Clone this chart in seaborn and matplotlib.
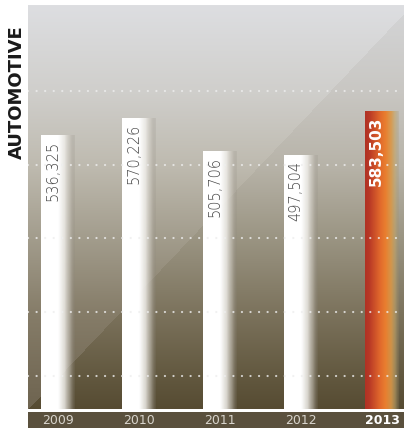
import numpy as np
import pandas as pd
import matplotlib
matplotlib.use("Agg")
import matplotlib.pyplot as plt
import seaborn as sns
from matplotlib.patches import Rectangle

# ---- data -------------------------------------------------------------
years = ["2009", "2010", "2011", "2012", "2013"]
units = [536325, 570226, 505706, 497504, 583503]
value_labels = ["536,325", "570,226", "505,706", "497,504", "583,503"]
grid_levels = [65000, 190000, 335000, 478000, 623000]
y_top = 791000

W_PX, H_PX = 404, 428
sns.set_theme(style="white")
plt.rcParams["font.family"] = ["DejaVu Sans"]

fig = plt.figure(figsize=(W_PX / 100, H_PX / 100), dpi=100)
fig.patch.set_facecolor("white")

ax_l, ax_r, ax_t, ax_b = 28, 404, 5, 409
ax = fig.add_axes([ax_l / W_PX, 1 - ax_b / H_PX,
                   (ax_r - ax_l) / W_PX, (ax_b - ax_t) / H_PX])

# dark band under the axis holding the year labels
fig.add_artist(Rectangle((ax_l / W_PX, 0), (ax_r - ax_l) / W_PX, 16 / H_PX,
                         transform=fig.transFigure, facecolor="#5a503d",
                         edgecolor="none", zorder=-1))

# ---- background: vertical gradient split by a diagonal ----------------
def ramp(stops, n):
    t = np.linspace(0, 1, n)
    pos = [s[0] for s in stops]
    cols = np.array([s[1] for s in stops], dtype=float) / 255
    return np.stack([np.interp(t, pos, cols[:, k]) for k in range(3)], axis=1)

upper = [(0.0, (221, 222, 225)), (0.21, (208, 207, 204)), (0.40, (190, 186, 175)),
         (0.58, (162, 156, 140)), (0.76, (134, 125, 105)), (0.92, (118, 108, 88)),
         (1.0, (110, 100, 80))]
lower = [(0.0, (212, 213, 215)), (0.21, (201, 199, 195)), (0.40, (183, 179, 168)),
         (0.58, (154, 148, 130)), (0.76, (124, 115, 93)), (0.92, (98, 88, 63)),
         (1.0, (86, 75, 50))]
H, W = ax_b - ax_t, ax_r - ax_l
cu = ramp(upper, H)[:, None, :]
cl = ramp(lower, H)[:, None, :]
yy, xx = np.mgrid[0:H, 0:W]
above = (H - yy) / H > 0.98 * xx / W
bg = np.where(above[..., None], cu, cl)
ax.imshow(bg, extent=(0, 1, 0, 1), transform=ax.transAxes,
          aspect="auto", zorder=0, interpolation="bilinear")

# ---- bars -------------------------------------------------------------
df = pd.DataFrame({"year": years, "units": units})
sns.barplot(data=df, x="year", y="units", ax=ax, width=0.41,
            color="white", saturation=1, zorder=1)

def bar_gradient(stops, n=64):
    u = np.linspace(0, 1, n)
    pos = [s[0] for s in stops]
    cols = np.array([s[1] for s in stops], dtype=float)
    cols[:, :3] /= 255
    return np.stack([np.interp(u, pos, cols[:, k]) for k in range(4)], axis=1)[None, :, :]

white_grad = bar_gradient([(0.0, (255, 255, 255, 1.0)), (0.52, (255, 255, 255, 1.0)),
                           (0.70, (240, 238, 234, 0.85)), (0.86, (200, 196, 188, 0.55)),
                           (1.0, (140, 135, 125, 0.15))])
orange_grad = bar_gradient([(0.0, (176, 50, 36, 1.0)), (0.12, (184, 56, 38, 1.0)),
                            (0.45, (226, 106, 44, 1.0)), (0.62, (233, 128, 48, 1.0)),
                            (0.78, (218, 152, 72, 0.9)), (0.90, (195, 165, 105, 0.6)),
                            (1.0, (165, 145, 105, 0.2))])

for i, patch in enumerate(ax.patches):
    x0, w, h = patch.get_x(), patch.get_width(), patch.get_height()
    patch.set_facecolor("none")
    patch.set_edgecolor("none")
    grad = orange_grad if i == len(years) - 1 else white_grad
    im = ax.imshow(grad, extent=(x0, x0 + w, 0, h), aspect="auto",
                   zorder=2, interpolation="bilinear")
    im.set_clip_path(patch)

# ---- dotted guide lines ------------------------------------------------
for lv in grid_levels:
    ax.axhline(lv, color="#eeeeee", lw=1.6, ls=(0, (0.05, 3.8)),
               dash_capstyle="round", alpha=0.8, zorder=2.5)

# ---- value labels inside bars -----------------------------------------
for i, (v, lab) in enumerate(zip(units, value_labels)):
    last = i == len(years) - 1
    ax.text(i - 0.065, v - 12000, lab, rotation=90, ha="center", va="top",
            fontsize=11 if last else 10.5,
            fontweight="bold" if last else "light",
            color="white" if last else "#484848", zorder=3)

# ---- axes cosmetics ----------------------------------------------------
ax.set_xlim(-0.37, 4.272)
ax.set_ylim(0, y_top)
ax.set_yticks([])
ax.set_xlabel("")
ax.set_ylabel("")
for s in ax.spines.values():
    s.set_visible(False)
ax.set_xticks(range(len(years)))
ax.set_xticklabels(years)
ax.tick_params(axis="x", length=0, pad=3.5, labelsize=9, colors="#d8d4cc")
for i, t in enumerate(ax.get_xticklabels()):
    if i == len(years) - 1:
        t.set_color("white")
        t.set_fontweight("bold")

fig.text(17 / W_PX, 1 - 92 / H_PX, "AUTOMOTIVE", rotation=90, ha="center",
         va="center", fontsize=13, fontweight="bold", color="#1a1a1a")

fig.savefig("out.png", dpi=100, facecolor="white")
